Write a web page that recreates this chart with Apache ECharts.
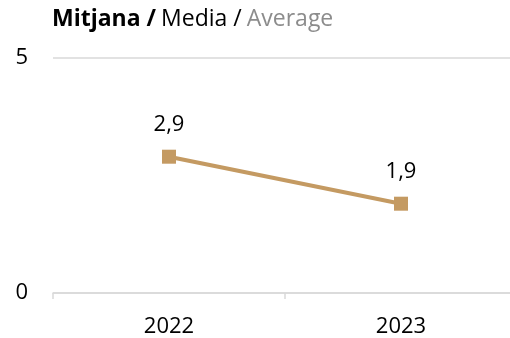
<!DOCTYPE html>
<html><head><meta charset="utf-8">
<script src="https://cdn.jsdelivr.net/npm/echarts@6/dist/echarts.min.js"></script>
<style>html,body{margin:0;padding:0;background:#fff}#c{width:510px;height:338px}</style>
</head><body><div id="c"></div>
<script>
const categories = ['2022', '2023'];
const values = [2.9, 1.9];
const yTicks = [0, 5];
const FONT = '"Open Sans", "Liberation Sans", sans-serif';
const chart = echarts.init(document.getElementById('c'), null, {renderer: 'canvas'});
chart.setOption({
  animation: false,
  title: {
    text: '{b|Mitjana /} {n|Media /} {g|Average}',
    left: 47, top: 3,
    textStyle: {
      fontWeight: 'normal',
      rich: {
        b: {fontFamily: FONT, fontSize: 23, fontWeight: 'bold', color: '#000'},
        n: {fontFamily: FONT, fontSize: 23, fontWeight: 'normal', color: '#000'},
        g: {fontFamily: FONT, fontSize: 23, fontWeight: 'normal', color: '#8c8c8c'}
      }
    }
  },
  grid: {left: 53, top: 58, width: 464, height: 235, containLabel: false, outerBoundsMode: 'none'},
  xAxis: {
    type: 'category', data: categories, boundaryGap: true,
    axisLine: {lineStyle: {color: '#d9d9d9', width: 1.5}},
    axisTick: {show: true, length: 6, inside: false, lineStyle: {color: '#d9d9d9', width: 1.5}},
    axisLabel: {fontFamily: FONT, fontSize: 22, color: '#000', margin: 23}
  },
  yAxis: {
    type: 'value', min: yTicks[0], max: yTicks[1], interval: yTicks[1] - yTicks[0],
    axisLine: {show: false}, axisTick: {show: false},
    splitLine: {lineStyle: {color: '#d9d9d9', width: 1.5}},
    axisLabel: {fontFamily: FONT, fontSize: 22, color: '#000', margin: 25, formatter: v => String(v)}
  },
  series: [{
    type: 'line', data: values,
    symbol: 'rect', symbolSize: 14,
    lineStyle: {color: '#C49A62', width: 4},
    itemStyle: {color: '#C49A62'},
    label: {show: true, position: 'top', distance: 14, fontFamily: FONT, fontSize: 22, color: '#000',
      formatter: p => String(p.value).replace('.', ',')}
  }]
});
</script></body></html>
